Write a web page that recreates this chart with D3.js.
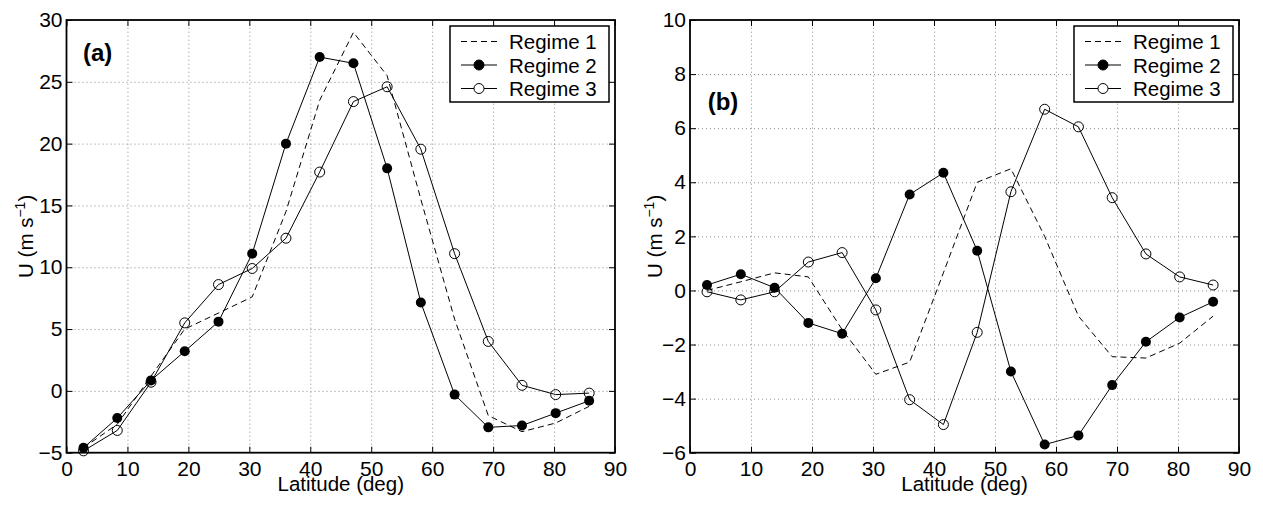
<!DOCTYPE html>
<meta charset="utf-8">
<script src="https://d3js.org/d3.v7.min.js"></script>
<style>
  body { margin: 0; background: #fff; }
  text { font-family: "Liberation Sans", Arial, Helvetica, sans-serif; fill: #000; }
  .tick text { font-size: 21px; }
  .grid line { stroke: #8a8a8a; stroke-width: 1; stroke-dasharray: 1,3; }
  .grid path { display: none; }
</style>
<body>
<div id="chart"></div>
<script>
// latitudes of the data points (deg)
var latitudes = [2.79, 8.33, 13.87, 19.40, 24.94, 30.47, 36.01, 41.54, 47.08, 52.61, 58.14, 63.68, 69.21, 74.74, 80.27, 85.76];

// panel (a) - zonal wind U (m/s)
var aRegime1 = [-4.6, -2.7, 1.2, 5.0, 6.3, 7.6, 14.5, 23.5, 29.0, 25.5, 15.5, 5.8, -2.0, -3.3, -2.6, -1.25];
var aRegime2 = [-4.6, -2.2, 0.85, 3.2, 5.6, 11.1, 20.0, 27.0, 26.5, 18.0, 7.15, -0.3, -2.95, -2.8, -1.8, -0.8];
var aRegime3 = [-4.85, -3.2, 0.7, 5.5, 8.6, 9.9, 12.35, 17.7, 23.4, 24.6, 19.55, 11.1, 4.0, 0.45, -0.3, -0.18];

// panel (b) - zonal wind anomaly U (m/s)
var bRegime1 = [0.0, 0.32, 0.65, 0.5, -1.45, -3.1, -2.65, 0.65, 4.0, 4.5, 2.0, -0.95, -2.45, -2.5, -1.95, -0.95];
var bRegime2 = [0.2, 0.6, 0.1, -1.2, -1.6, 0.45, 3.55, 4.35, 1.47, -3.0, -5.7, -5.36, -3.5, -1.9, -1.0, -0.42];
var bRegime3 = [-0.05, -0.35, -0.05, 1.05, 1.4, -0.72, -4.04, -4.96, -1.55, 3.65, 6.7, 6.05, 3.43, 1.35, 0.5, 0.2];

var xTicks = [0, 10, 20, 30, 40, 50, 60, 70, 80, 90];
var aYTicks = [-5, 0, 5, 10, 15, 20, 25, 30];
var bYTicks = [-6, -4, -2, 0, 2, 4, 6, 8, 10];
var legendLabels = ["Regime 1", "Regime 2", "Regime 3"];

var width = 1263, height = 506;

var svg = d3.select("#chart")
    .append("svg")
        .attr("width", width)
        .attr("height", height);

function fmt(d) {
    return d < 0 ? "\u2212" + Math.abs(d) : "" + d;
}

function drawPanel(opts) {
    var left = opts.left, right = opts.right, top = 20, bottom = 452.7;

    var x = d3.scaleLinear().domain([0, 90]).range([left, right]);
    var y = d3.scaleLinear().domain(opts.yDomain).range([bottom, top]);

    var g = svg.append("g");

    // dotted grid
    g.append("g").attr("class", "grid")
        .attr("transform", "translate(0," + bottom + ")")
        .call(d3.axisBottom(x).tickValues(xTicks.slice(1, -1)).tickSize(-(bottom - top)).tickFormat(""));
    g.append("g").attr("class", "grid")
        .attr("transform", "translate(" + left + ",0)")
        .call(d3.axisLeft(y).tickValues(opts.yTicks.slice(1, -1)).tickSize(-(right - left)).tickFormat(""));

    // series
    var line = d3.line()
        .x(function(d, i) { return x(latitudes[i]); })
        .y(function(d) { return y(d); });

    g.append("path")
        .datum(opts.s1)
        .attr("d", line)
        .attr("fill", "none")
        .attr("stroke", "#000")
        .attr("stroke-width", 1)
        .attr("stroke-dasharray", "6,4");

    g.append("path")
        .datum(opts.s2)
        .attr("d", line)
        .attr("fill", "none")
        .attr("stroke", "#000")
        .attr("stroke-width", 1);

    g.append("path")
        .datum(opts.s3)
        .attr("d", line)
        .attr("fill", "none")
        .attr("stroke", "#000")
        .attr("stroke-width", 1);

    g.selectAll(".m2")
        .data(opts.s2)
        .enter()
        .append("circle")
        .attr("cx", function(d, i) { return x(latitudes[i]); })
        .attr("cy", function(d) { return y(d); })
        .attr("r", 5)
        .attr("fill", "#000");

    g.selectAll(".m3")
        .data(opts.s3)
        .enter()
        .append("circle")
        .attr("cx", function(d, i) { return x(latitudes[i]); })
        .attr("cy", function(d) { return y(d); })
        .attr("r", 5)
        .attr("fill", "none")
        .attr("stroke", "#000")
        .attr("stroke-width", 1);

    // axes with inward ticks
    g.append("g")
        .attr("transform", "translate(0," + bottom + ")")
        .call(d3.axisBottom(x).tickValues(xTicks).tickSizeInner(-6).tickSizeOuter(0).tickPadding(8).tickFormat(fmt));
    g.append("g")
        .attr("transform", "translate(" + left + ",0)")
        .call(d3.axisLeft(y).tickValues(opts.yTicks).tickSizeInner(-6).tickSizeOuter(0).tickPadding(4).tickFormat(fmt));
    g.append("g")
        .attr("transform", "translate(0," + top + ")")
        .call(d3.axisTop(x).tickValues(xTicks).tickSizeInner(-6).tickSizeOuter(0).tickFormat(""));
    g.append("g")
        .attr("transform", "translate(" + right + ",0)")
        .call(d3.axisRight(y).tickValues(opts.yTicks).tickSizeInner(-6).tickSizeOuter(0).tickFormat(""));
    g.selectAll(".domain").remove();
    g.selectAll(".tick line").filter(function() { return !this.parentNode.parentNode.classList.contains("grid"); })
        .attr("stroke", "#000");

    g.append("rect")
        .attr("x", left).attr("y", top)
        .attr("width", right - left).attr("height", bottom - top)
        .attr("fill", "none")
        .attr("stroke", "#000")
        .attr("stroke-width", 1.8);

    // axis labels
    g.append("text")
        .attr("x", (left + right) / 2)
        .attr("y", 491)
        .attr("text-anchor", "middle")
        .style("font-size", "20.5px")
        .text("Latitude (deg)");

    var yl = g.append("text")
        .attr("transform", "translate(" + opts.yLabelX + "," + (top + bottom) / 2 + ")rotate(-90)")
        .attr("text-anchor", "middle")
        .style("font-size", "20.5px");
    yl.append("tspan").text("U (m s");
    yl.append("tspan").attr("dy", -8).style("font-size", "14px").text("\u22121");
    yl.append("tspan").attr("dy", 8).text(")");

    // panel tag
    g.append("text")
        .attr("x", x(opts.tagPos[0]))
        .attr("y", y(opts.tagPos[1]))
        .style("font-size", "24px")
        .style("font-weight", "bold")
        .text(opts.tag);

    // legend
    var lx = opts.legendX, ly = 26, lw = 159, lh = 76;
    var lg = g.append("g");
    lg.append("rect")
        .attr("x", lx).attr("y", ly)
        .attr("width", lw).attr("height", lh)
        .attr("fill", "#fff")
        .attr("stroke", "#000")
        .attr("stroke-width", 1.5);
    legendLabels.forEach(function(label, i) {
        var cy = ly + 15.5 + i * 23.5;
        lg.append("line")
            .attr("x1", lx + 11).attr("x2", lx + 47)
            .attr("y1", cy).attr("y2", cy)
            .attr("stroke", "#000")
            .attr("stroke-width", 1)
            .attr("stroke-dasharray", i === 0 ? "6,4" : null);
        if (i > 0) {
            lg.append("circle")
                .attr("cx", lx + 29).attr("cy", cy).attr("r", 5)
                .attr("fill", i === 1 ? "#000" : "#fff")
                .attr("stroke", "#000");
        }
        lg.append("text")
            .attr("x", lx + 59).attr("y", cy + 7.5)
            .style("font-size", "20.5px")
            .text(label);
    });
}

drawPanel({
    left: 66.5, right: 615, yDomain: [-5, 30], yTicks: aYTicks,
    s1: aRegime1, s2: aRegime2, s3: aRegime3,
    yLabelX: 33, tag: "(a)", tagPos: [2.7, 26.7], legendX: 450
});

drawPanel({
    left: 690, right: 1239, yDomain: [-6, 10], yTicks: bYTicks,
    s1: bRegime1, s2: bRegime2, s3: bRegime3,
    yLabelX: 662, tag: "(b)", tagPos: [2.9, 6.67], legendX: 1074
});
</script>
</body>
